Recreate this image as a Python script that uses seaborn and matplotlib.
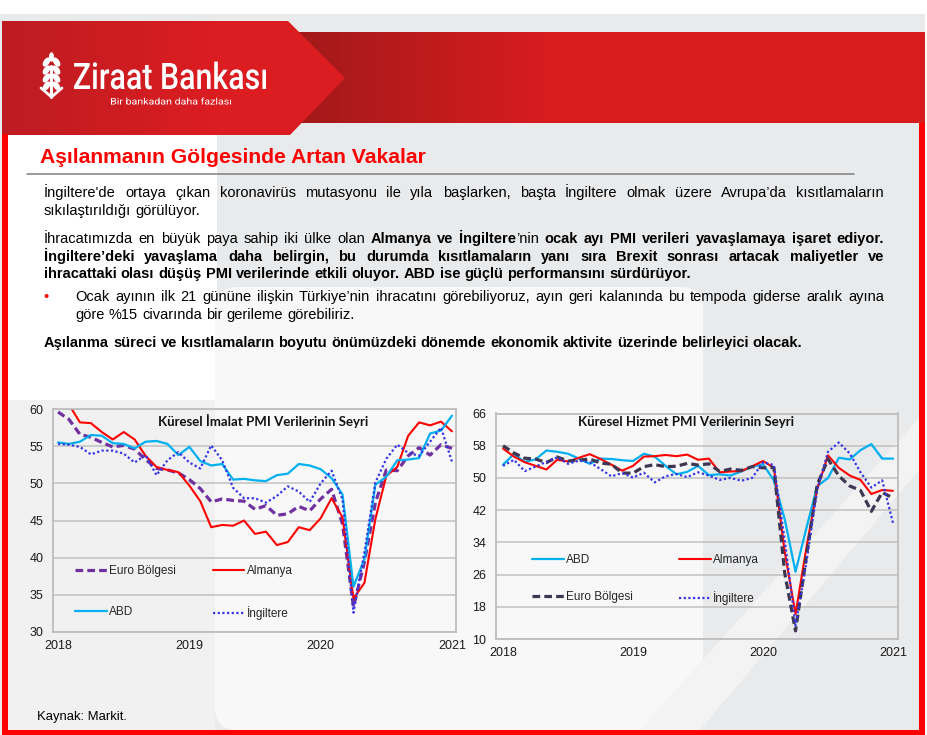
import numpy as np
import pandas as pd
import matplotlib
matplotlib.use("Agg")
import matplotlib.pyplot as plt
import seaborn as sns
from matplotlib.patches import Rectangle, Polygon, FancyBboxPatch, PathPatch, Ellipse
from matplotlib.textpath import TextPath
from matplotlib.font_manager import FontProperties
from matplotlib.transforms import Affine2D

# ---- data (monthly, Jan 2018 - Jan 2021) ----
years = ["2018", "2019", "2020", "2021"]
months = np.arange(37)

euro_man = [59.6, 58.6, 56.6, 56.2, 55.5, 54.9, 55.1, 54.6, 53.2, 52.0, 51.8, 51.4,
            50.5, 49.3, 47.5, 47.9, 47.7, 47.6, 46.5, 47.0, 45.7, 45.9, 46.9, 46.3,
            47.9, 49.2, 44.5, 33.4, 39.4, 47.4, 51.8, 51.7, 53.7, 54.8, 53.8, 55.2, 54.7]
ger_man = [61.1, 60.6, 58.2, 58.1, 56.9, 55.9, 56.9, 55.9, 53.7, 52.2, 51.8, 51.5,
           49.7, 47.6, 44.1, 44.4, 44.3, 45.0, 43.2, 43.5, 41.7, 42.1, 44.1, 43.7,
           45.3, 48.0, 45.4, 34.5, 36.6, 45.2, 51.0, 52.2, 56.4, 58.2, 57.8, 58.3, 57.0]
us_man = [55.5, 55.3, 55.6, 56.5, 56.4, 55.4, 55.3, 54.7, 55.6, 55.7, 55.3, 53.8,
          54.9, 53.0, 52.4, 52.6, 50.5, 50.6, 50.4, 50.3, 51.1, 51.3, 52.6, 52.4,
          51.9, 50.7, 48.5, 36.1, 39.8, 49.8, 50.9, 53.1, 53.2, 53.4, 56.7, 57.1, 59.1]
uk_man = [55.3, 55.2, 54.9, 53.9, 54.4, 54.4, 54.0, 52.8, 53.8, 51.1, 53.1, 54.2,
          52.8, 52.0, 55.1, 53.1, 49.4, 48.0, 48.0, 47.4, 48.3, 49.6, 48.9, 47.5,
          50.0, 51.7, 47.8, 32.6, 40.7, 50.1, 53.3, 55.2, 54.1, 53.7, 55.6, 57.5, 52.9]

euro_srv = [58.0, 56.2, 54.9, 54.7, 53.8, 55.2, 54.2, 54.4, 54.7, 53.7, 53.4, 51.2,
            51.2, 52.8, 53.3, 52.8, 52.9, 53.6, 53.2, 53.5, 51.6, 52.2, 51.9, 52.8,
            52.5, 52.6, 26.4, 12.0, 30.5, 48.3, 54.7, 50.5, 48.0, 46.9, 41.7, 46.4, 45.0]
ger_srv = [57.3, 55.3, 53.9, 53.0, 52.1, 54.5, 54.1, 55.0, 55.9, 54.7, 53.3, 51.8,
           53.0, 55.3, 55.4, 55.7, 55.4, 55.8, 54.5, 54.8, 51.4, 51.6, 51.7, 52.9,
           54.2, 52.5, 31.7, 16.2, 32.6, 47.3, 55.6, 52.5, 50.6, 49.5, 46.0, 47.0, 46.8]
us_srv = [53.3, 55.9, 54.0, 54.6, 56.8, 56.5, 56.0, 54.8, 53.5, 54.8, 54.7, 54.4,
          54.2, 56.0, 55.3, 53.0, 50.9, 51.5, 53.0, 50.7, 50.9, 50.6, 51.6, 52.8,
          53.4, 49.4, 39.8, 26.7, 37.5, 47.9, 50.0, 55.0, 54.6, 56.9, 58.4, 54.8, 54.8]
uk_srv = [53.0, 54.5, 51.7, 52.8, 54.0, 55.1, 53.5, 54.3, 53.9, 52.2, 50.4, 51.2,
          50.1, 51.3, 48.9, 50.4, 51.0, 50.2, 51.4, 50.6, 49.5, 50.0, 49.3, 50.0,
          53.9, 53.2, 34.5, 13.4, 29.0, 47.1, 56.5, 58.8, 56.1, 51.4, 47.6, 49.4, 38.8]

man_ticks = [30, 35, 40, 45, 50, 55, 60]
srv_ticks = [10, 18, 26, 34, 42, 50, 58, 66]

# slide text
title = "Aşılanmanın Gölgesinde Artan Vakalar"
para1 = ["İngiltere'de ortaya çıkan koronavirüs mutasyonu ile yıla başlarken, başta İngiltere olmak üzere Avrupa’da kısıtlamaların",
         "sıkılaştırıldığı  görülüyor."]
para2 = ["İhracatımızda en büyük paya sahip iki ülke olan *Almanya ve İngiltere*’nin *ocak ayı PMI verileri yavaşlamaya işaret ediyor.*",
         "*İngiltere’deki yavaşlama daha belirgin, bu durumda kısıtlamaların yanı sıra Brexit sonrası artacak maliyetler ve*",
         "*ihracattaki olası düşüş PMI verilerinde etkili oluyor. ABD ise güçlü performansını sürdürüyor.*"]
bullet = ["Ocak ayının ilk 21 gününe ilişkin Türkiye’nin ihracatını görebiliyoruz, ayın geri kalanında bu tempoda giderse aralık ayına",
          "göre %15 civarında bir gerileme görebiliriz."]
closing = "*Aşılanma süreci ve kısıtlamaların boyutu önümüzdeki dönemde ekonomik aktivite üzerinde belirleyici olacak.*"

sns.set_theme(style="white")
plt.rcParams["font.family"] = ["Liberation Sans", "DejaVu Sans"]

W, H = 928, 735
fig = plt.figure(figsize=(W / 100, H / 100), dpi=100, facecolor="#e9eaec")
bg = fig.add_axes([0, 0, 1, 1])
bg.set_zorder(-5)
bg.axis("off")

# ---- slide background ----
bg.add_patch(Rectangle((0, 0), W, 14, color="white", lw=0))
bg.add_patch(Rectangle((7, 135), 210, 265, color="white", lw=0))
bg.add_patch(FancyBboxPatch((215, 287), 488, 443, boxstyle="round,pad=0,rounding_size=22",
                            color="#f8f8f8", lw=0))
bg.add_patch(Rectangle((7, 400), 208, 330, color="#f1f1f2", lw=0))
bg.add_patch(Polygon([(919, 418), (919, 470), (700, 730), (640, 730)], color="#f3f3f4", lw=0))

# header band with gradient
t = np.clip((np.linspace(168, W, 400) - 290) / 260, 0, 1)
dark, bright = np.array([0.63, 0.10, 0.10]), np.array([0.85, 0.11, 0.12])
band = (dark[None, :] * (1 - t[:, None]) + bright[None, :] * t[:, None])[None, :, :]
bg.imshow(band, extent=(168, W, 123, 32), aspect="auto", zorder=1)

pent = Polygon([(2, 21), (288, 21), (345, 78), (290, 135), (2, 135)], closed=True,
               facecolor="none", edgecolor="none")
bg.add_patch(pent)
t2 = np.clip(np.linspace(0, 1, 300) * 1.6, 0, 1)
c0, c1 = np.array([0.74, 0.11, 0.13]), np.array([0.86, 0.11, 0.13])
pgrad = (c0[None, :] * (1 - t2[:, None]) + c1[None, :] * t2[:, None])[None, :, :]
im = bg.imshow(pgrad, extent=(2, 345, 135, 21), aspect="auto", zorder=2)
im.set_clip_path(pent)
bg.set_xlim(0, W)
bg.set_ylim(H, 0)

# red frame
bg.add_patch(Rectangle((2, 134), 6, 601, color="#ff0000", lw=0, zorder=3))
bg.add_patch(Rectangle((919, 123), 6, 612, color="#ff0000", lw=0, zorder=3))
bg.add_patch(Rectangle((2, 730), 923, 5, color="#ff0000", lw=0, zorder=3))
bg.add_patch(Rectangle((925, 0), 3, H, color="white", lw=0, zorder=3))


# ---- logo ----
def path_text(s, x0, x1, cap_top, baseline, fp, ref="Z"):
    p = TextPath((0, 0), s, size=1, prop=fp)
    ext = p.get_extents()
    cap = TextPath((0, 0), ref, size=1, prop=fp).get_extents().y1
    sy = (baseline - cap_top) / cap
    sx = (x1 - x0) / ext.width
    tr = Affine2D().translate(-ext.x0, 0).scale(sx, -sy).translate(x0, baseline) + bg.transData
    bg.add_patch(PathPatch(p, transform=tr, facecolor="white", lw=0, zorder=4))


path_text("Ziraat Bankası", 74, 266, 63, 89, FontProperties(family="Roboto", weight="medium"))
path_text("Bir bankadan daha fazlası", 111, 231, 98, 104.5, FontProperties(family="Roboto"), ref="B")

bg.plot([51.5, 51.5], [66, 97], color="white", lw=2.2, zorder=4)
for yy in [62, 70, 78, 86]:
    bg.add_patch(Ellipse((46.5, yy), 4.5, 9, angle=35, color="white", zorder=4))
    bg.add_patch(Ellipse((56.5, yy), 4.5, 9, angle=-35, color="white", zorder=4))
bg.add_patch(Ellipse((51.5, 57), 3.6, 8, color="white", zorder=4))
bg.plot([51.5, 41], [97, 88], color="white", lw=2, zorder=4)
bg.plot([51.5, 62], [97, 88], color="white", lw=2, zorder=4)

# ---- title and text ----
bg.text(40, 162.5, title, fontsize=15.2, weight="bold", color="#ff0000", va="baseline")
bg.plot([27, 854], [173.5, 173.5], color="#808080", lw=1.1)

renderer = fig.canvas.get_renderer()
BODY = 10.5


def parse(line):
    words, cur, buf, bold = [], [], "", False
    for ch in line:
        if ch == "*":
            if buf:
                cur.append((buf, bold))
                buf = ""
            bold = not bold
        elif ch == " ":
            if buf:
                cur.append((buf, bold))
                buf = ""
            if cur:
                words.append(cur)
                cur = []
        else:
            buf += ch
    if buf:
        cur.append((buf, bold))
    if cur:
        words.append(cur)
    return words


def text_w(s, bold, size):
    tt = bg.text(0, 0, s, fontsize=size, weight="bold" if bold else "normal")
    w = tt.get_window_extent(renderer).width
    tt.remove()
    return w


def put_line(line, x0, x1, y, justify, size=BODY):
    words = parse(line)
    widths = [[text_w(s, b, size) for s, b in wd] for wd in words]
    total = sum(sum(w) for w in widths)
    if justify and len(words) > 1:
        gap = (x1 - x0 - total) / (len(words) - 1)
    else:
        gap = text_w("a a", False, size) - text_w("aa", False, size)
    x = x0
    for wd, ws in zip(words, widths):
        for (s, b), w in zip(wd, ws):
            bg.text(x, y, s, fontsize=size, weight="bold" if b else "normal",
                    color="black", va="baseline", ha="left")
            x += w
        x += gap


put_line(para1[0], 44, 884, 196.5, True)
put_line(para1[1], 44, 884, 214.5, False)
put_line(para2[0], 44, 884, 243, True)
put_line(para2[1], 44, 884, 260.5, True)
put_line(para2[2], 44, 884, 278, False)
bg.text(46.5, 300.5, "•", fontsize=BODY, color="#ff0000", ha="center", va="baseline")
put_line(bullet[0], 75.5, 884, 300.5, True)
put_line(bullet[1], 75.5, 884, 318.5, False)
put_line(closing, 44, 884, 346.5, False)

bg.text(37, 720, "Kaynak: Markit.", fontsize=9.4, color="black", va="baseline")


# ---- charts ----
def px_axes(x0, y0, x1, y1):
    return fig.add_axes([x0 / W, 1 - y1 / H, (x1 - x0) / W, (y1 - y0) / H])


def pmi_chart(ax, series, colors, widths, dashes, ticks, xlim, chart_title, tpos,
              legend_order, leg_anchor, labelspacing, colspacing):
    order = list(series.keys())
    long = pd.DataFrame({
        "Ay": np.tile(months, len(order)),
        "PMI": np.concatenate([series[k] for k in order]),
        "Seri": np.repeat(order, len(months)),
    })
    sns.lineplot(data=long, x="Ay", y="PMI", hue="Seri", style="Seri", size="Seri",
                 hue_order=order, style_order=order, size_order=order,
                 palette=colors, dashes=dashes, sizes=widths, ax=ax, legend=False)
    ax.set_xlim(*xlim)
    ax.set_ylim(ticks[0], ticks[-1])
    ax.set_yticks(ticks)
    ax.set_xticks([0, 12, 24, 36])
    ax.set_xticklabels(years)
    ax.set_xlabel("")
    ax.set_ylabel("")
    ax.set_facecolor("none")
    ax.grid(axis="y", color="#c0c0c0", lw=1.1)
    ax.grid(axis="x", visible=False)
    for sp in ax.spines.values():
        sp.set_color("#bdbdbd")
        sp.set_linewidth(1.3)
    ax.tick_params(length=0, labelsize=9, colors="#1a1a1a")
    ax.tick_params(axis="y", pad=7)
    ax.tick_params(axis="x", pad=6)
    ax.text(tpos[0], tpos[1], chart_title, transform=ax.transAxes, ha="center", va="center",
            fontsize=9.5, weight="bold", family="Lato", color="#111111")
    handles = dict(zip(order, ax.lines))
    ax.legend([handles[n] for n in legend_order], legend_order, loc="center left",
              bbox_to_anchor=leg_anchor, bbox_transform=bg.transData, ncol=2,
              frameon=False, borderpad=0, handlelength=2.7, handletextpad=0.2,
              labelspacing=labelspacing, columnspacing=colspacing, fontsize=8.5)


ax1 = px_axes(53, 409, 456, 632)
pmi_chart(ax1,
          {"Euro Bölgesi": euro_man, "Almanya": ger_man, "ABD": us_man, "İngiltere": uk_man},
          {"Euro Bölgesi": "#7030a0", "Almanya": "#ff0000", "ABD": "#00b0f0", "İngiltere": "#3535e6"},
          {"Euro Bölgesi": 2.3, "Almanya": 1.5, "ABD": 1.6, "İngiltere": 1.6},
          {"Euro Bölgesi": (2.4, 1.3), "Almanya": "", "ABD": "", "İngiltere": (1, 1.1)},
          man_ticks, (-0.46, 36.37), "Küresel İmalat PMI Verilerinin Seyri", (0.522, 0.946),
          ["Euro Bölgesi", "ABD", "Almanya", "İngiltere"], (69, 592.5), 2.5, 3.1)

ax2 = px_axes(496, 413.5, 898, 639)
pmi_chart(ax2,
          {"ABD": us_srv, "Almanya": ger_srv, "Euro Bölgesi": euro_srv, "İngiltere": uk_srv},
          {"ABD": "#00b0f0", "Almanya": "#ff0000", "Euro Bölgesi": "#3f3651", "İngiltere": "#3535e6"},
          {"ABD": 1.6, "Almanya": 1.5, "Euro Bölgesi": 2.3, "İngiltere": 1.6},
          {"ABD": "", "Almanya": "", "Euro Bölgesi": (2.4, 1.3), "İngiltere": (1, 1.1)},
          srv_ticks, (-0.65, 36.46), "Küresel Hizmet PMI Verilerinin Seyri", (0.473, 0.961),
          ["ABD", "Euro Bölgesi", "Almanya", "İngiltere"], (526, 579.5), 2.15, 3.9)

fig.savefig("out.png", dpi=100, facecolor=fig.get_facecolor())
